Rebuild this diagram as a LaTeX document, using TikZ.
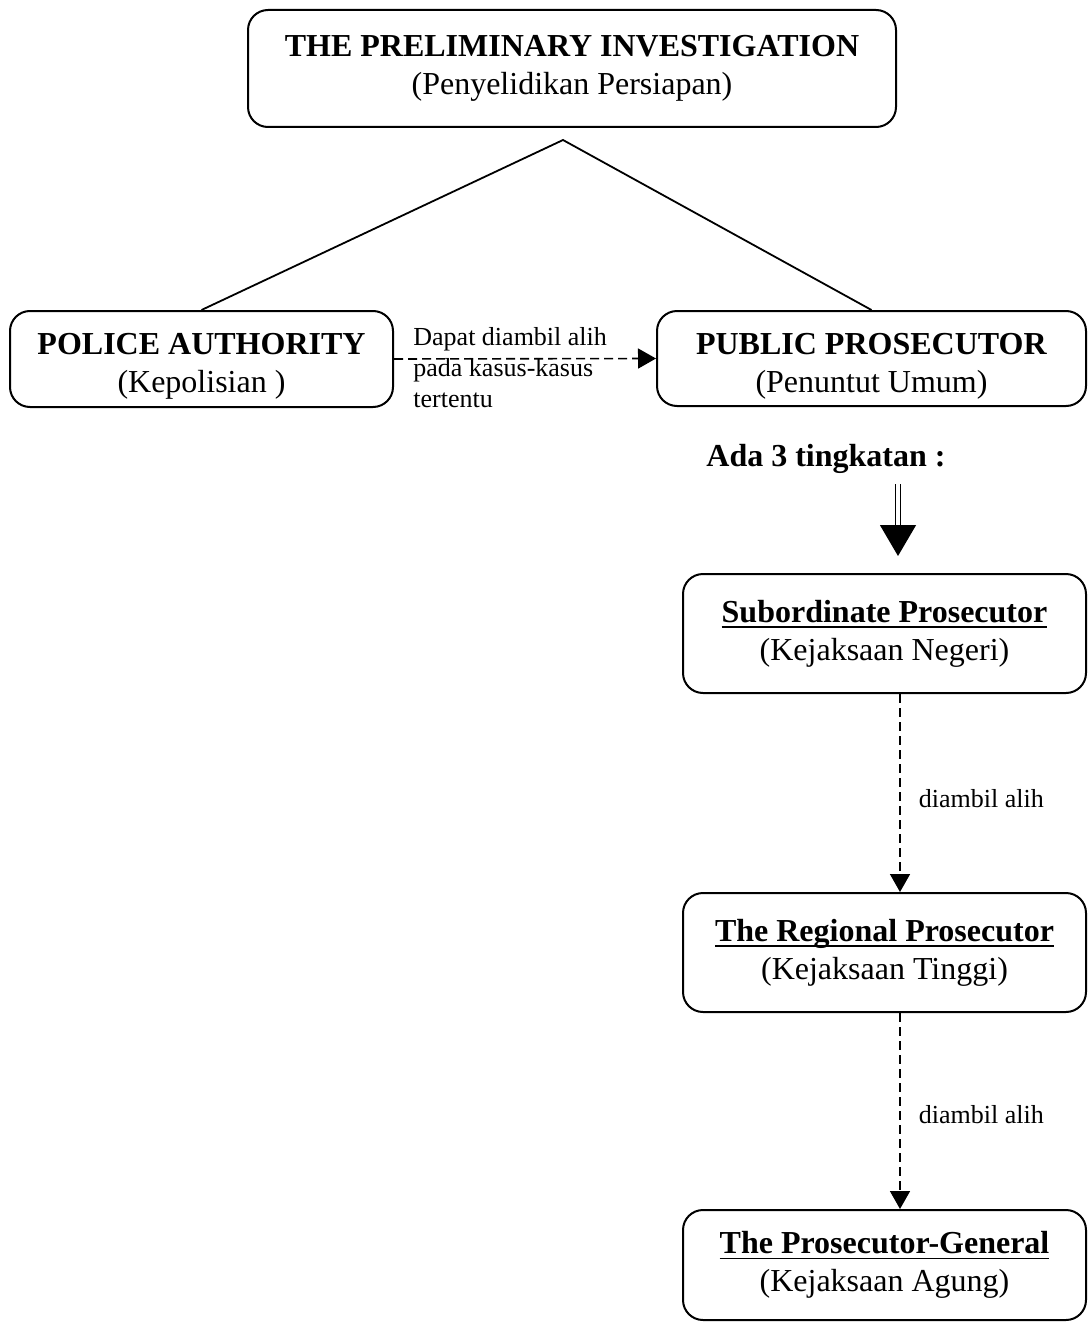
\documentclass[tikz,border=0pt]{standalone}
\usepackage{amsmath}
\usepackage{fontspec}
\setmainfont{Liberation Serif}
\usetikzlibrary{arrows.meta}
\newcommand\ultitle[1]{\underline{\smash[b]{\textbf{#1}}}}
\begin{document}
\begin{tikzpicture}[x=0.5pt,y=-0.5pt,
  box/.style={draw,line width=1pt,rounded corners=10pt,align=center,inner sep=0pt,font=\fontsize{16}{19}\selectfont},
  note/.style={align=left,inner sep=0pt,font=\fontsize{13}{15.5}\selectfont},
  tip/.style={-{Triangle[length=9pt,width=10pt]}},
  jump/.style={dash pattern=on 4.5pt off 2.5pt,line width=0.8pt,tip}]
\fill[white] (0,0) rectangle (1088,1322);
\useasboundingbox (0,0) rectangle (1088,1322);

\node[box,minimum width=324pt,minimum height=58.5pt] (prelim) at (572,68.5) {\textbf{THE PRELIMINARY INVESTIGATION}\\(Penyelidikan Persiapan)};
\node[box,minimum width=191.5pt,minimum height=48pt] (police) at (201.5,359) {\rule{0pt}{18pt}\textbf{POLICE AUTHORITY}\\(Kepolisian )};
\node[box,minimum width=214.5pt,minimum height=47.5pt] (public) at (871.5,358.5) {\rule{0pt}{18pt}\textbf{PUBLIC PROSECUTOR}\\(Penuntut Umum)};
\node[box,minimum width=201.5pt,minimum height=59.5pt] (sub) at (884.5,633.5) {\ultitle{Subordinate Prosecutor}\\(Kejaksaan Negeri)};
\node[box,minimum width=201.5pt,minimum height=59.5pt] (reg) at (884.5,952.5) {\ultitle{The Regional Prosecutor}\\(Kejaksaan Tinggi)};
\node[box,minimum width=201.5pt,minimum height=55pt] (gen) at (884.5,1265) {\ultitle{The Prosecutor-General}\\(Kejaksaan Agung)};

\coordinate (apex) at (563,140);
\draw[line width=0.9pt] (police.north) -- (apex) -- (public.north);

\draw[jump] (police.east) -- (public.west);
\node[note,anchor=north west] (takeover) at (413,327) {Dapat diambil alih\\pada kasus-kasus\\tertentu};

\node[font=\fontsize{16}{19}\selectfont\bfseries,inner sep=0pt] (levels) at (826,459) {Ada 3 tingkatan :};
\coordinate (dtop) at (898,484);
\coordinate (dtip) at (898,556);
\draw[line width=0.6pt,double,double distance=1.8pt,-{Triangle[length=15.5pt,width=18pt]}] (dtop) -- (dtip);

\coordinate (xline) at (900,0);
\draw[jump] (sub.south -| xline) -- node[note,pos=0.53,right=9pt] (take1) {diambil alih} (reg.north -| xline);
\draw[jump] (reg.south -| xline) -- node[note,pos=0.52,right=9pt] (take2) {diambil alih} (gen.north -| xline);
\end{tikzpicture}
\end{document}
